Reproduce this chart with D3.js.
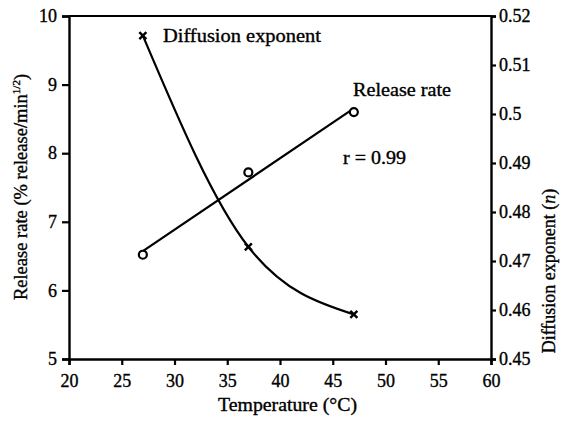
<!DOCTYPE html>
<html><head><meta charset="utf-8">
<script src="https://cdn.jsdelivr.net/npm/d3@7"></script>
<style>body{margin:0;background:#fff}svg{display:block}text{font-family:"Liberation Serif","Times New Roman",serif;fill:#000;stroke:#000;stroke-width:0.35px}</style>
</head><body><svg id="c" width="572" height="423"></svg>
<script>
const temperatures = [27, 37, 47];
const releaseRate = [6.52, 7.72, 8.6];
const diffusionExponent = [0.516, 0.4729, 0.4591];
const xTicks = [20, 25, 30, 35, 40, 45, 50, 55, 60];
const yLeftTicks = [5, 6, 7, 8, 9, 10];
const yRightTicks = [0.45, 0.46, 0.47, 0.48, 0.49, 0.5, 0.51, 0.52];
const correlation = "r = 0.99";

const svg = d3.select("#c");
const m = {l: 69, r: 491, t: 16, b: 359};
const x = d3.scaleLinear().domain([20, 60]).range([m.l, m.r]);
const yL = d3.scaleLinear().domain([5, 10]).range([m.b, m.t]);
const yR = d3.scaleLinear().domain([0.45, 0.52]).range([m.b, m.t]);

const fs = "18px";
svg.append("line").attr("x1", m.l).attr("x2", m.r).attr("y1", m.t).attr("y2", m.t).attr("stroke", "#000").attr("stroke-width", 2.2);

const gx = svg.append("g").attr("transform", `translate(0,${m.b})`)
  .call(d3.axisBottom(x).tickValues(xTicks).tickSize(6).tickPadding(9).tickFormat(d3.format("d")));
const gl = svg.append("g").attr("transform", `translate(${m.l},0)`)
  .call(d3.axisLeft(yL).tickValues(yLeftTicks).tickSize(7).tickPadding(5).tickFormat(d3.format("d")));
const gr = svg.append("g").attr("transform", `translate(${m.r},0)`)
  .call(d3.axisRight(yR).tickValues(yRightTicks).tickSize(5).tickPadding(3).tickFormat(d => String(+d.toFixed(2))));
[gx, gl, gr].forEach(g => {
  g.select(".domain").attr("stroke-width", 2.4);
  g.selectAll(".tick line").attr("stroke-width", 2.2);
  g.selectAll(".tick text").style("font-size", fs).style("font-family", "Liberation Serif").attr("stroke", "#000").attr("stroke-width", 0.35);
});

// regression line for release rate
const mx = d3.mean(temperatures), my = d3.mean(releaseRate);
const slope = d3.sum(temperatures.map((t, i) => (t - mx) * (releaseRate[i] - my))) / d3.sum(temperatures.map(t => (t - mx) ** 2));
const icpt = my - slope * mx;
const ext = d3.extent(temperatures);
svg.append("line")
  .attr("x1", x(ext[0])).attr("y1", yL(icpt + slope * ext[0]))
  .attr("x2", x(ext[1])).attr("y2", yL(icpt + slope * ext[1]))
  .attr("stroke", "#000").attr("stroke-width", 2.2);

// diffusion curve
const dpts = temperatures.map((t, i) => [x(t), yR(diffusionExponent[i])]);
svg.append("path").attr("d", d3.line().curve(d3.curveMonotoneX)(dpts))
  .attr("fill", "none").attr("stroke", "#000").attr("stroke-width", 2.2);

// markers
svg.selectAll("circle.rr").data(temperatures).join("circle")
  .attr("cx", (d) => x(d)).attr("cy", (d, i) => yL(releaseRate[i])).attr("r", 4)
  .attr("fill", "#fff").attr("stroke", "#000").attr("stroke-width", 2.2);
const s = 3.5;
svg.selectAll("path.de").data(dpts).join("path")
  .attr("d", d => `M${d[0]-s},${d[1]-s}L${d[0]+s},${d[1]+s}M${d[0]-s},${d[1]+s}L${d[0]+s},${d[1]-s}`)
  .attr("stroke", "#000").attr("stroke-width", 2.4);

// annotations
svg.append("text").attr("x", 163).attr("y", 42).style("font-size", fs).attr("textLength", 158).attr("lengthAdjust", "spacingAndGlyphs").text("Diffusion exponent");
svg.append("text").attr("x", 353).attr("y", 96).style("font-size", fs).attr("textLength", 98).attr("lengthAdjust", "spacingAndGlyphs").text("Release rate");
svg.append("text").attr("x", 343).attr("y", 164).style("font-size", fs).attr("textLength", 63).attr("lengthAdjust", "spacingAndGlyphs").text(correlation);

// axis titles
svg.append("text").attr("x", 218).attr("y", 411).style("font-size", fs).attr("textLength", 139).attr("lengthAdjust", "spacingAndGlyphs").text("Temperature (°C)");
const lt = svg.append("text").attr("transform", `translate(27,187) rotate(-90)`).attr("text-anchor", "middle").style("font-size", "18.5px");
lt.append("tspan").text("Release rate (% release/min");
lt.append("tspan").attr("dy", -7).style("font-size", "11px").text("1/2");
lt.append("tspan").attr("dy", 7).text(")");
const rt = svg.append("text").attr("transform", `translate(555,271) rotate(-90)`).attr("text-anchor", "middle").style("font-size", fs);
rt.append("tspan").text("Diffusion exponent (");
rt.append("tspan").style("font-style", "italic").text("n");
rt.append("tspan").text(")");
</script></body></html>
